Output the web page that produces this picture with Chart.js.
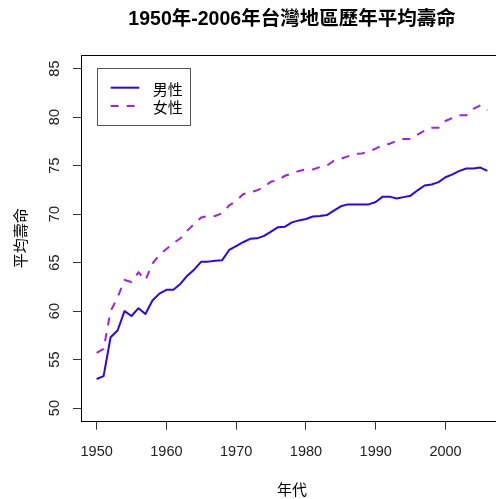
<!DOCTYPE html>
<html>
<head>
<meta charset="utf-8">
<script src="https://cdn.jsdelivr.net/npm/chart.js@4.4.1/dist/chart.umd.min.js"></script>
<style>
html,body{margin:0;padding:0;background:#fff;overflow:hidden;}
#wrap{width:496px;height:499px;overflow:hidden;}
canvas{display:block;}
</style>
</head>
<body>
<div id="wrap"><canvas id="c" width="520" height="499"></canvas></div>
<script>
const years = [1950,1951,1952,1953,1954,1955,1956,1957,1958,1959,
  1960,1961,1962,1963,1964,1965,1966,1967,1968,1969,
  1970,1971,1972,1973,1974,1975,1976,1977,1978,1979,
  1980,1981,1982,1983,1984,1985,1986,1987,1988,1989,
  1990,1991,1992,1993,1994,1995,1996,1997,1998,1999,
  2000,2001,2002,2003,2004,2005,2006];
const male = [53.0,53.3,57.3,58.0,60.0,59.5,60.3,59.7,61.1,61.8,
  62.2,62.2,62.8,63.65,64.3,65.1,65.1,65.2,65.25,66.3,
  66.7,67.1,67.45,67.5,67.75,68.2,68.65,68.7,69.15,69.35,
  69.5,69.75,69.8,69.9,70.35,70.8,71.0,71.0,71.0,71.0,
  71.25,71.8,71.8,71.6,71.75,71.9,72.45,72.95,73.05,73.3,
  73.8,74.1,74.45,74.7,74.7,74.8,74.45];
const female = [55.7,56.1,60.0,61.4,63.2,63.0,64.0,63.2,64.9,65.8,
  66.4,67.0,67.5,68.3,69.0,69.65,69.8,69.8,70.1,70.9,
  71.35,72.05,72.25,72.45,72.8,73.35,73.5,73.95,74.2,74.45,
  74.6,74.6,74.85,75.0,75.5,75.7,75.95,76.2,76.25,76.45,
  76.75,77.1,77.25,77.55,77.75,77.75,78.2,78.6,78.9,78.9,
  79.6,79.9,80.2,80.2,80.85,81.2,80.7];
const seriesNames = ['男性','女性'];
const xTicks = [1950,1960,1970,1980,1990,2000];
const yTicks = [50,55,60,65,70,75,80,85];
const titleText = '1950年-2006年台灣地區歷年平均壽命';
const xTitle = '年代';
const yTitle = '平均壽命';

const LATIN = "'Liberation Sans', Arial, 'Noto Sans CJK TC', sans-serif";
const CJK = "'Noto Sans CJK TC', 'Liberation Sans', sans-serif";

const framePlugin = {
  id: 'frame',
  afterDatasetsDraw(chart) {
    const {ctx, chartArea: a} = chart;
    ctx.save();
    ctx.strokeStyle = '#000';
    ctx.lineWidth = 1;
    const l = Math.floor(a.left) + 0.5, t = Math.floor(a.top) + 0.5;
    const r = Math.floor(a.right) + 0.5, b = Math.floor(a.bottom) + 0.5;
    ctx.strokeRect(l, t, r - l, b - t);
    ctx.restore();
  }
};

const boxLegend = {
  id: 'boxLegend',
  afterDraw(chart) {
    const {ctx, chartArea: a} = chart;
    const bx = Math.round(a.left + 15.7) + 0.5, by = Math.round(a.top + 13.3) + 0.5;
    ctx.save();
    ctx.strokeStyle = '#555';
    ctx.lineWidth = 1;
    ctx.strokeRect(bx, by, 93, 57);
    const rows = [a.top + 32.7, a.top + 51];
    chart.data.datasets.forEach((ds, i) => {
      const y = rows[i];
      ctx.beginPath();
      ctx.strokeStyle = ds.borderColor;
      ctx.lineWidth = ds.borderWidth;
      ctx.setLineDash(ds.borderDash || []);
      ctx.moveTo(a.left + 29.7, y);
      ctx.lineTo(a.left + 58.3, y);
      ctx.stroke();
      ctx.setLineDash([]);
      ctx.fillStyle = '#000';
      ctx.font = "15px " + CJK;
      ctx.textBaseline = 'middle';
      ctx.textAlign = 'left';
      ctx.fillText(ds.label, a.left + 71.7, y + 1.5);
    });
    ctx.restore();
  }
};

new Chart(document.getElementById('c'), {
  type: 'line',
  data: {
    datasets: [
      {
        label: seriesNames[0],
        data: years.map((yr, i) => ({x: yr, y: male[i]})),
        borderColor: '#3000FF',
        borderWidth: 2,
        pointRadius: 0,
        tension: 0,
        fill: false,
        borderJoinStyle: 'round'
      },
      {
        label: seriesNames[1],
        data: years.map((yr, i) => ({x: yr, y: female[i]})),
        borderColor: '#A020F0',
        borderWidth: 2,
        borderDash: [8, 8],
        pointRadius: 0,
        tension: 0,
        fill: false
      }
    ]
  },
  options: {
    responsive: false,
    animation: false,
    devicePixelRatio: 1,
    layout: {padding: {left: 0, right: 17, top: 0, bottom: 0}},
    plugins: {
      legend: {display: false},
      tooltip: {enabled: false},
      title: {
        display: true,
        text: titleText,
        fullSize: false,
        color: '#000',
        font: {family: LATIN, size: 19.5, weight: 'bold'},
        padding: {top: 7.8, bottom: 23.8}
      }
    },
    scales: {
      x: {
        type: 'linear',
        min: 1947.76,
        max: 2008.24,
        afterBuildTicks(s) { s.ticks = xTicks.map(v => ({value: v})); },
        afterFit(s) { s.height = 499 - 421.7; },
        grid: {display: true, drawOnChartArea: false, drawTicks: true, tickLength: 8, color: '#333'},
        border: {display: false},
        ticks: {font: {family: LATIN, size: 14.5}, color: '#222', padding: 14, maxRotation: 0, autoSkip: false,
          callback: v => String(v)},
        title: {display: true, text: xTitle, color: '#000', font: {family: CJK, size: 15}, padding: {top: 0, bottom: 0.5}}
      },
      y: {
        type: 'linear',
        min: 48.6,
        max: 86.4,
        afterBuildTicks(s) { s.ticks = yTicks.map(v => ({value: v})); },
        afterFit(s) { s.width = 81; },
        grid: {display: true, drawOnChartArea: false, drawTicks: true, tickLength: 8, color: '#333'},
        border: {display: false},
        ticks: {font: {family: LATIN, size: 14.5}, color: '#222', padding: 10, minRotation: 90, maxRotation: 90,
          crossAlign: 'center', autoSkip: false, callback: v => String(v)},
        title: {display: true, text: yTitle, color: '#000', font: {family: CJK, size: 15}, padding: {top: 11.5, bottom: 0}}
      }
    }
  },
  plugins: [framePlugin, boxLegend]
});
</script>
</body>
</html>
